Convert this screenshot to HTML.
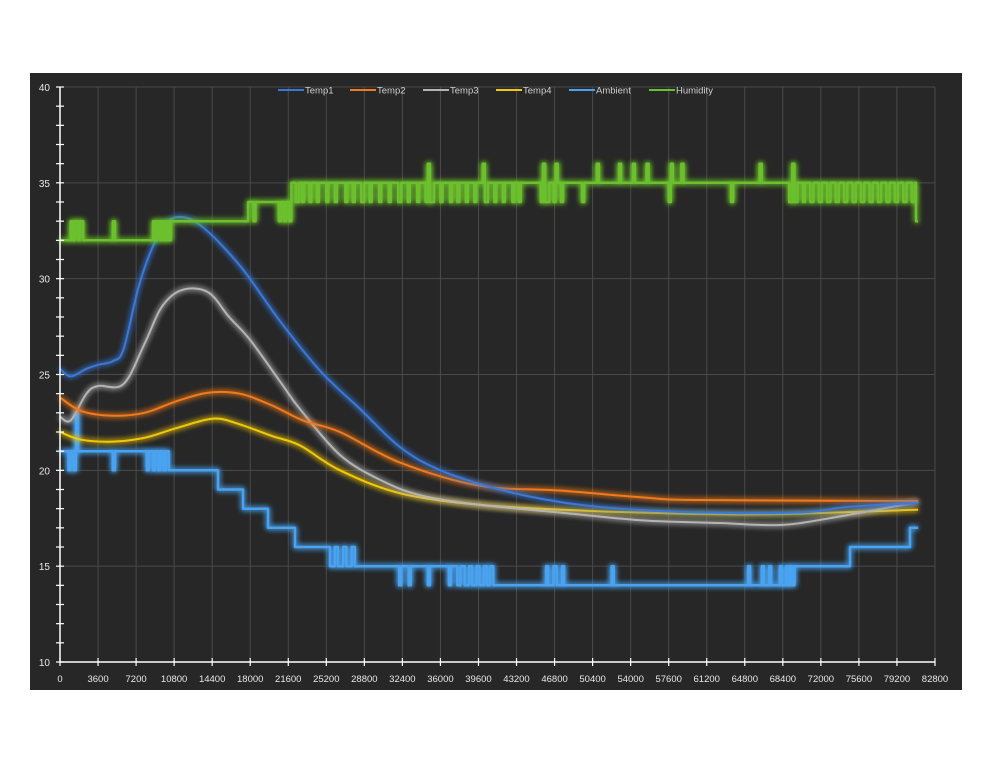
<!DOCTYPE html>
<html><head><meta charset="utf-8"><style>
body{margin:0;background:#fff;width:991px;height:766px;overflow:hidden;font-family:"Liberation Sans",sans-serif}
</style></head><body>
<svg id="chart" width="991" height="766" xmlns="http://www.w3.org/2000/svg">
<defs>
<filter id="glow" x="-10%" y="-10%" width="120%" height="120%"><feGaussianBlur stdDeviation="3" result="b"/><feMerge><feMergeNode in="b"/><feMergeNode in="b"/><feMergeNode in="SourceGraphic"/></feMerge></filter>
</defs>
<rect x="30" y="73" width="932" height="617" fill="#272727"/>
<g id="grid"></g><g id="series"></g><g id="axes"></g><g id="legend"></g>
</svg>
<script>
const xTicks=[0,3600,7200,10800,14400,18000,21600,25200,28800,32400,36000,39600,43200,46800,50400,54000,57600,61200,64800,68400,72000,75600,79200,82800];
const yTicks=[10,15,20,25,30,35,40];
const seriesNames=["Temp1","Temp2","Temp3","Temp4","Ambient","Humidity"];
const seriesColors=["#3a78d8","#f07a1e","#b4b4b4","#f2c80f","#4aa3f0","#6cc02e"];
const temp1=[[0,25.3],[1000,24.9],[2500,25.3],[3600,25.5],[5000,25.7],[6000,26.3],[7400,29.5],[8500,31.3],[9500,32.4],[10900,33.2],[13250,32.8],[17000,30.7],[20800,27.8],[24600,25.2],[28400,23.2],[32200,21.2],[36000,20.0],[41600,19.0],[47300,18.35],[53000,18.0],[60500,17.8],[70000,17.8],[74700,18.1],[81200,18.3]];
const temp2=[[0,23.8],[2000,23.1],[5000,22.85],[8000,23.0],[11000,23.6],[14000,24.05],[17000,24.0],[20000,23.4],[23000,22.6],[26500,22.0],[32200,20.4],[39700,19.2],[47300,18.95],[54900,18.6],[60500,18.45],[81200,18.4]];
const temp3=[[0,22.8],[1000,22.6],[2500,24.0],[3600,24.4],[6000,24.5],[8000,26.6],[9600,28.5],[11500,29.4],[14000,29.3],[16000,28.0],[18000,26.8],[21000,24.5],[22700,23.2],[26500,20.8],[30300,19.5],[34100,18.7],[39700,18.2],[47300,17.8],[54900,17.4],[62400,17.25],[68100,17.15],[72800,17.5],[81200,18.35]];
const temp4=[[0,22.0],[2000,21.6],[5000,21.5],[8000,21.7],[11000,22.2],[14500,22.7],[17000,22.4],[20000,21.8],[22700,21.3],[26500,20.0],[32200,18.8],[39700,18.2],[47300,17.95],[54900,17.8],[66200,17.7],[81200,17.95]];
const ambient=[[0,21],[800,20],[1000,21],[1300,20],[1500,23],[1700,21],[5000,20],[5200,21],[8200,20],[8400,21],[8800,20],[9000,21],[9300,20],[9500,21],[9800,20],[10000,21],[10300,20],[14950,19],[17320,18],[19680,17],[22240,16],[25550,15],[26000,16],[26300,15],[26800,16],[27100,15],[27600,16],[27900,15],[32100,14],[32300,15],[33000,14],[33200,15],[34800,14],[35000,15],[36800,14],[37000,15],[37600,14],[37900,15],[38300,14],[38700,15],[39000,14],[39400,15],[39700,14],[40100,15],[40400,14],[40700,15],[41000,14],[46000,15],[46200,14],[46700,15],[47000,14],[47500,15],[47700,14],[52200,15],[52400,14],[65100,15],[65300,14],[66400,15],[66600,14],[67100,15],[67300,14],[68100,15],[68300,14],[68700,15],[68900,14],[69100,15],[69300,14],[69500,15],[74760,16],[80430,17],[81200,17]];
const humidity=[[0,32],[1000,33],[1200,32],[1400,33],[1700,32],[1900,33],[2200,32],[5000,33],[5200,32],[8800,33],[9000,32],[9200,33],[9500,32],[9700,33],[9900,32],[10100,33],[10300,32],[10500,33],[17800,34],[18300,33],[18500,34],[20700,33],[20900,34],[21200,33],[21400,34],[21700,33],[21900,35],[22300,34],[22600,35],[22900,34],[23100,35],[23600,34],[23800,35],[24300,34],[24500,35],[25200,34],[25400,35],[26000,34],[26200,35],[27000,34],[27200,35],[27700,34],[27900,35],[28500,34],[28800,35],[29300,34],[29500,35],[30200,34],[30400,35],[31100,34],[31300,35],[32000,34],[32300,35],[32900,34],[33100,35],[33800,34],[34000,35],[34600,34],[34800,36],[35000,34],[35400,35],[36000,34],[36200,35],[36900,34],[37100,35],[37600,34],[37800,35],[38400,34],[38600,35],[39200,34],[39400,35],[40000,36],[40200,34],[40500,35],[41100,34],[41300,35],[41900,34],[42100,35],[42800,34],[43000,35],[43400,34],[43600,35],[45500,34],[45700,36],[45900,34],[46300,35],[46700,34],[46900,36],[47100,35],[47400,34],[47600,35],[49400,34],[49600,35],[50800,36],[51000,35],[52900,36],[53100,35],[54200,36],[54400,35],[55500,36],[55700,35],[57600,34],[57800,36],[58000,35],[58800,36],[59000,35],[63500,34],[63700,35],[66200,36],[66400,35],[69000,34],[69300,36],[69500,34],[69800,35],[70300,34],[70500,35],[71000,34],[71300,35],[71800,34],[72100,35],[72600,34],[72900,35],[73400,34],[73700,35],[74200,34],[74500,35],[75000,34],[75300,35],[75800,34],[76100,35],[76600,34],[76900,35],[77400,34],[77700,35],[78200,34],[78500,35],[79000,34],[79300,35],[79800,34],[80100,35],[80600,34],[80900,35],[81000,33],[81200,33]];
const X0=60,X1=935,Y0=662,Y1=87;
const xs=v=>X0+v/82800*(X1-X0);
const ys=v=>Y0-(v-10)/30*(Y0-Y1);
const NS="http://www.w3.org/2000/svg";
function mk(tag,attrs,parent){const e=document.createElementNS(NS,tag);for(const k in attrs)e.setAttribute(k,attrs[k]);parent.appendChild(e);return e;}
const grid=document.getElementById('grid'),axes=document.getElementById('axes'),ser=document.getElementById('series'),leg=document.getElementById('legend');
xTicks.forEach((t,i)=>{
 if(i>0){const g=mk('line',{x1:xs(t),x2:xs(t),y1:Y1,y2:Y0,stroke:'#4a4a4a','stroke-width':1},grid);
 
 }
 const tk=mk('line',{x1:xs(t),x2:xs(t),y1:Y0-4,y2:Y0+4,stroke:'#fff','stroke-width':1.2},axes);
 
 
 const l=mk('text',{x:xs(t),y:Y0+20,fill:'#e8e8e8','font-size':9.5,'text-anchor':'middle'},axes);l.textContent=t;
 
 
});
for(let v=10;v<=40;v++){
 const tk=mk('line',{x1:X0-4,x2:X0+4,y1:ys(v),y2:ys(v),stroke:'#fff','stroke-width':1.2},axes);
 
 
}
yTicks.forEach(v=>{
 if(v>10){const g=mk('line',{x1:X0,x2:X1,y1:ys(v),y2:ys(v),stroke:'#4a4a4a','stroke-width':1},grid);
 
 }
 const l=mk('text',{x:X0-10,y:ys(v)+4,fill:'#e8e8e8','font-size':10,'text-anchor':'end'},axes);l.textContent=v;
 
 
});
const ax=mk('path',{d:`M${X0},${Y1} V${Y0} H${X1}`,stroke:'#fff','stroke-width':1.5,fill:'none'},axes);


function smooth(d){
 const P=d.map(p=>[xs(p[0]),ys(p[1])]);
 let s='M'+P[0][0].toFixed(1)+','+P[0][1].toFixed(1);
 for(let i=0;i<P.length-1;i++){
  const p0=P[Math.max(0,i-1)],p1=P[i],p2=P[i+1],p3=P[Math.min(P.length-1,i+2)];
  const c1=[p1[0]+(p2[0]-p0[0])/6,p1[1]+(p2[1]-p0[1])/6];
  const c2=[p2[0]-(p3[0]-p1[0])/6,p2[1]-(p3[1]-p1[1])/6];
  s+='C'+c1[0].toFixed(1)+','+c1[1].toFixed(1)+' '+c2[0].toFixed(1)+','+c2[1].toFixed(1)+' '+p2[0].toFixed(1)+','+p2[1].toFixed(1);
 }
 return s;
}
function step(d){let s='';d.forEach((p,i)=>{if(i===0)s+='M'+xs(p[0]).toFixed(1)+','+ys(p[1]).toFixed(1);else s+='H'+xs(p[0]).toFixed(1)+'V'+ys(p[1]).toFixed(1);});return s;}
const data=[temp1,temp2,temp3,temp4,ambient,humidity];
const order=[4,3,2,1,0,5];
order.forEach(i=>{
 const d=i>=4?step(data[i]):smooth(data[i]);
 const p=mk('path',{d:d,stroke:seriesColors[i],'stroke-width':i>=4?2.5:2,fill:'none','stroke-linejoin':'round',filter:'url(#glow)'},ser);
 
 
});
const lx=[278,350,423,496,569,649];
seriesNames.forEach((n,i)=>{
 const g=mk('g',{},leg);
 
 
 mk('line',{x1:lx[i],x2:lx[i]+26,y1:90,y2:90,stroke:seriesColors[i],'stroke-width':2},g);
 const t=mk('text',{x:lx[i]+27,y:93.5,fill:'#d0d0d0','font-size':9.5},g);t.textContent=n;
});
</script>
</body></html>
